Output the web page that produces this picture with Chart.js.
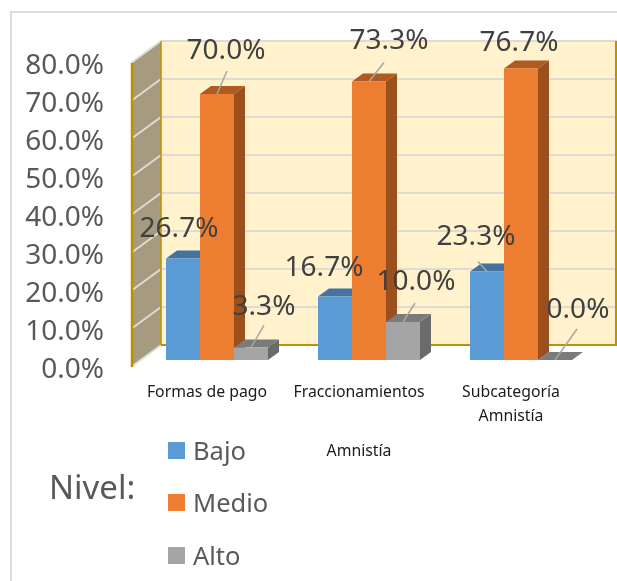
<!DOCTYPE html>
<html>
<head>
<meta charset="utf-8">
<title>Nivel</title>
<script src="https://cdn.jsdelivr.net/npm/chart.js@4"></script>
<style>
  html, body { margin: 0; padding: 0; background: #fff; }
  #wrap { width: 617px; height: 581px; position: relative; overflow: hidden; }
</style>
</head>
<body>
<div id="wrap"><canvas id="chart"></canvas></div>
<script>
// datos
const categories = ['Formas de pago', 'Fraccionamientos', ['Subcategoría', 'Amnistía']];
const outerCategory = 'Amnistía';
const legendTitle = 'Nivel:';
const bajo = [26.7, 16.7, 23.3];
const medio = [70.0, 73.3, 76.7];
const alto = [3.3, 10.0, 0.0];
const seriesNames = ['Bajo', 'Medio', 'Alto'];

// colores: frente, tapa, lateral
const faceColors = ['#5B9BD5', '#ED7D31', '#A5A5A5'];
const topColors = ['#44739F', '#AE5A21', '#7B7B7B'];
const sideColors = ['#3E6A93', '#9A4F1D', '#6B6B6B'];

const FONT = '"Noto Sans", sans-serif';
// la caja 3D respecto a la escala (las etiquetas del eje van un poco mas abajo)
const FRONT_DY = -3;
const WALL_DX = 30, WALL_DY = -22;
const BAR_SHIFT_X = 10, BAR_SHIFT_Y = -10;
const BAR_DX = 11, BAR_DY = -8;
const TEXT_NUDGE = 3; // Noto Sans queda alta con baseline middle

// posicion de cada etiqueta respecto a la punta de su barra [dx, dy]
const labelOffsets = [
  [[-4, -33], [-11, -32], [-11, -37]],
  [[9, -46], [20, -43], [-2, -29]],
  [[13, -43], [13, -43], [23, -53]]
];
// lineas guia, mismo sistema (null = sin linea)
const leaderOffsets = [
  [null, null, [-9, -10]],
  [[10, -23], [15, -19], null],
  [[13, -22], [12, -19], [22, -31]]
];

function poly(ctx, pts, fill) {
  ctx.beginPath();
  pts.forEach((p, i) => i ? ctx.lineTo(p[0], p[1]) : ctx.moveTo(p[0], p[1]));
  ctx.closePath();
  ctx.fillStyle = fill;
  ctx.fill();
}

function line(ctx, x1, y1, x2, y2, color, width) {
  ctx.beginPath();
  ctx.moveTo(x1, y1);
  ctx.lineTo(x2, y2);
  ctx.strokeStyle = color;
  ctx.lineWidth = width;
  ctx.stroke();
}

const box3d = {
  id: 'box3d',
  beforeDatasetsDraw(chart) {
    const { ctx, chartArea: a, scales: { y } } = chart;
    const y0 = y.getPixelForValue(0) + FRONT_DY, yMax = y.getPixelForValue(80) + FRONT_DY;
    const bx = a.left + WALL_DX, br = a.right + WALL_DX;

    ctx.save();
    // marco exterior
    line(ctx, 11, 12, 617, 12, '#DDDDDD', 2);
    line(ctx, 11, 11, 11, 581, '#DDDDDD', 2);

    // pared del fondo
    ctx.fillStyle = '#FFF2CC';
    ctx.fillRect(bx, yMax + WALL_DY, br - bx, y0 - yMax);
    // pared lateral
    poly(ctx, [[a.left, yMax], [bx, yMax + WALL_DY], [bx, y0 + WALL_DY], [a.left, y0]], '#A69B7F');

    // lineas de division
    y.ticks.forEach(t => {
      const py = y.getPixelForValue(t.value) + FRONT_DY;
      if (t.value > 0) line(ctx, bx, py + WALL_DY, br, py + WALL_DY, '#DEDBD3', 2);
      line(ctx, a.left, py, bx, py + WALL_DY, '#DEDBD3', 2);
    });

    // bordes dorados
    line(ctx, bx, y0 + WALL_DY, br, y0 + WALL_DY, '#BF9000', 2);
    line(ctx, bx, yMax + WALL_DY, bx, y0 + WALL_DY, '#BF9000', 1.5);
    line(ctx, br - 1, yMax + WALL_DY, br - 1, y0 + WALL_DY, '#BF9000', 2);
    line(ctx, a.left + 1, yMax, a.left + 1, y0, '#BF9000', 2.5);
    ctx.restore();

    // barras de izquierda a derecha: cada una tapa el lateral de la anterior
    ctx.save();
    ctx.translate(BAR_SHIFT_X, BAR_SHIFT_Y);
    chart.data.datasets.forEach((ds, i) => {
      const meta = chart.getDatasetMeta(i);
      meta.data.forEach(el => {
        const l = el.x - el.width / 2, r = el.x + el.width / 2;
        poly(ctx, [[r, el.y], [r + BAR_DX, el.y + BAR_DY], [r + BAR_DX, el.base + BAR_DY], [r, el.base]], sideColors[i]);
        poly(ctx, [[l, el.y], [l + BAR_DX, el.y + BAR_DY], [r + BAR_DX, el.y + BAR_DY], [r, el.y]], topColors[i]);
      });
      meta.controller.draw();
    });
    ctx.restore();
  },
  // ya dibujadas arriba, Chart.js las pintaria en orden inverso
  beforeDatasetDraw() {
    return false;
  },
  afterDatasetsDraw(chart) {
    const ctx = chart.ctx;

    // lineas guia y etiquetas
    ctx.save();
    chart.data.datasets.forEach((ds, i) => {
      chart.getDatasetMeta(i).data.forEach((el, j) => {
        const px = el.x + BAR_SHIFT_X, py = el.y + BAR_SHIFT_Y;
        const lead = leaderOffsets[i][j];
        if (lead) line(ctx, px, py, px + lead[0], py + lead[1], '#A6A6A6', 1.5);
      });
    });
    ctx.font = '28px ' + FONT;
    ctx.fillStyle = '#404040';
    ctx.textAlign = 'center';
    ctx.textBaseline = 'middle';
    chart.data.datasets.forEach((ds, i) => {
      chart.getDatasetMeta(i).data.forEach((el, j) => {
        const off = labelOffsets[i][j];
        ctx.fillText(ds.data[j].toFixed(1) + '%', el.x + BAR_SHIFT_X + off[0], el.y + BAR_SHIFT_Y + off[1] + TEXT_NUDGE);
      });
    });

    // leyenda
    ctx.textAlign = 'left';
    ctx.fillStyle = '#595959';
    ctx.font = '33px ' + FONT;
    ctx.fillText(legendTitle, 49, 487 + TEXT_NUDGE);
    ctx.font = '25.5px ' + FONT;
    const legendY = [451, 503, 556];
    seriesNames.forEach((name, i) => {
      ctx.fillStyle = faceColors[i];
      ctx.fillRect(168, legendY[i] - 9, 17, 17);
      ctx.fillStyle = '#595959';
      ctx.fillText(name, 193, legendY[i] + TEXT_NUDGE - 1);
    });
    ctx.restore();
  }
};

const makeDataset = (i, data) => ({
  label: seriesNames[i],
  data: data,
  backgroundColor: faceColors[i],
  borderWidth: 0,
  categoryPercentage: 0.671,
  barPercentage: 1
});

new Chart(document.getElementById('chart'), {
  type: 'bar',
  data: {
    labels: categories,
    datasets: [makeDataset(0, bajo), makeDataset(1, medio), makeDataset(2, alto)]
  },
  options: {
    responsive: true,
    maintainAspectRatio: false,
    animation: false,
    layout: { padding: { top: 66, right: 30, left: 0, bottom: 0 } },
    plugins: { legend: { display: false }, tooltip: { enabled: false }, title: { display: false } },
    scales: {
      x: {
        grid: { display: false },
        border: { display: false },
        afterFit: s => { s.height = 211; },
        ticks: {
          color: '#1A1A1A',
          font: { family: FONT, size: 15.8, lineHeight: 1.5 },
          padding: 3,
          maxRotation: 0,
          autoSkip: false
        },
        title: {
          display: true,
          text: outerCategory,
          color: '#1A1A1A',
          font: { family: FONT, size: 15.8 },
          padding: { top: 0, bottom: 120 }
        }
      },
      y: {
        min: 0,
        max: 80,
        grid: { display: false },
        border: { display: false },
        afterFit: s => { s.width = 131; },
        ticks: {
          stepSize: 10,
          color: '#595959',
          font: { family: FONT, size: 28 },
          padding: 19,
          callback: v => v.toFixed(1) + '%'
        }
      }
    }
  },
  plugins: [box3d]
});
</script>
</body>
</html>
